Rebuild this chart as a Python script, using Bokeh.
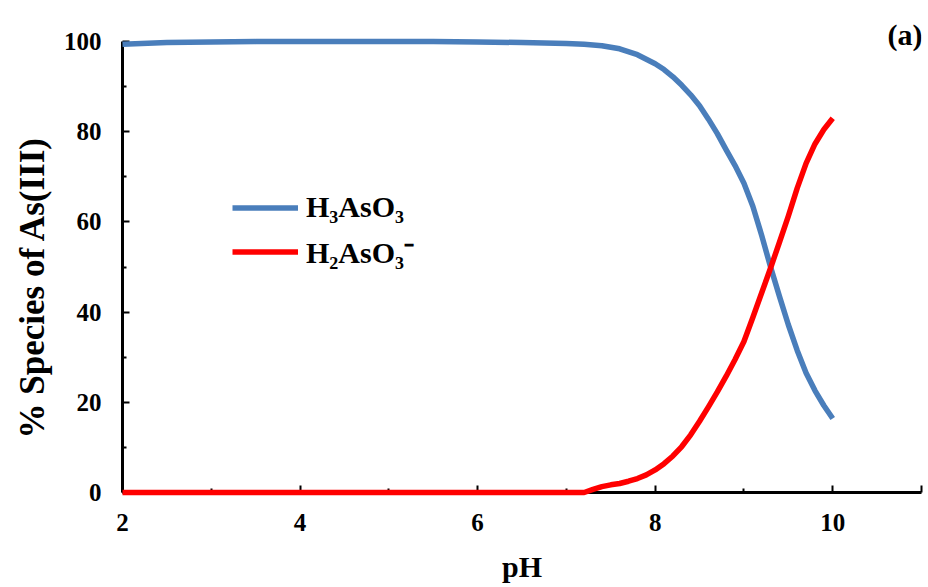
from bokeh.plotting import figure
from bokeh.models import Range1d, FixedTicker, Legend, LegendItem, Label, Title, ColumnDataSource
from bokeh.embed import file_html
from bokeh.resources import INLINE

# data
ph = [2.0, 2.5, 3.0, 3.5, 4.0, 4.5, 5.0, 5.5, 6.0, 6.5, 7.0, 7.2, 7.4, 7.6, 7.8, 8.0,
      8.1, 8.2, 8.3, 8.4, 8.5, 8.6, 8.7, 8.8, 8.9, 9.0, 9.1, 9.2, 9.3, 9.4, 9.5,
      9.6, 9.7, 9.8, 9.9, 10.0]
h3aso3 = [99.4, 99.8, 99.9, 100.0, 100.0, 100.0, 100.0, 100.0, 99.9, 99.8, 99.6, 99.4,
          99.1, 98.4, 97.1, 95.1, 93.8, 92.2, 90.3, 88.2, 85.8, 82.8, 79.6, 76.0,
          72.5, 68.6, 63.5, 57.0, 50.0, 43.5, 37.2, 31.5, 26.5, 22.6, 19.3, 16.4]
ph_red = [2.0, 3.0, 4.0, 5.0, 6.0, 7.0, 7.2, 7.3, 7.4, 7.5, 7.6, 7.7, 7.8, 7.9, 8.0,
          8.1, 8.2, 8.3, 8.4, 8.5, 8.6, 8.7, 8.8, 8.9, 9.0, 9.1, 9.2, 9.3, 9.4, 9.5,
          9.6, 9.7, 9.8, 9.9, 10.0]
h2aso3 = [0.0, 0.0, 0.0, 0.0, 0.0, 0.0, 0.0, 0.7, 1.3, 1.7, 2.0, 2.5, 3.1, 3.9, 5.0,
          6.4, 8.1, 10.2, 12.8, 15.8, 19.0, 22.3, 25.8, 29.5, 33.5, 38.8, 44.3,
          49.8, 55.5, 61.3, 67.5, 73.0, 77.3, 80.5, 83.0]
x_ticks = [2, 4, 6, 8, 10, 11]
x_minor = [3, 5, 7, 9]
y_ticks = [0, 20, 40, 60, 80, 100]
y_minor = [10, 30, 50, 70, 90]
labels = ["H\u2083AsO\u2083", "H\u2082AsO\u2083\u207b"]
x_title = "pH"
y_title = "% Species of As(III)"
panel_tag = "(a)"

FONT = "Liberation Serif"
BLUE = "#4A7EBB"
RED = "#FF0000"

p = figure(width=928, height=587, output_backend="svg", toolbar_location=None,
           x_range=Range1d(2.0, 11.0), y_range=Range1d(0.0, 106.9),
           min_border_left=122, min_border_right=7, min_border_top=10,
           min_border_bottom=95)
p.outline_line_color = None
p.grid.visible = False
p.background_fill_color = "white"
p.border_fill_color = "white"

src_b = ColumnDataSource(dict(x=ph, y=h3aso3))
src_r = ColumnDataSource(dict(x=ph_red, y=h2aso3))
rb = p.line("x", "y", source=src_b, line_color=BLUE, line_width=5.5, level="overlay",
            line_join="round")
rr = p.line("x", "y", source=src_r, line_color=RED, line_width=5.5, level="overlay",
            line_join="round")

for ax in (p.xaxis[0], p.yaxis[0]):
    ax.axis_line_width = 3
    ax.axis_line_color = "black"
    ax.major_tick_line_color = "black"
    ax.minor_tick_line_color = "black"
    ax.major_tick_line_width = 2
    ax.minor_tick_line_width = 2
    ax.major_tick_in = 7
    ax.major_tick_out = 0
    ax.minor_tick_in = 4
    ax.minor_tick_out = 0
    ax.major_label_text_font = FONT
    ax.major_label_text_font_style = "bold"
    ax.major_label_text_font_size = "25px"
    ax.major_label_text_color = "black"
    ax.axis_label_text_font = FONT
    ax.axis_label_text_font_style = "bold"
    ax.axis_label_text_color = "black"

xa = p.xaxis[0]
xa.ticker = FixedTicker(ticks=x_ticks, minor_ticks=x_minor)
xa.major_label_overrides = {11: ""}
xa.bounds = (2, 11)
xa.major_label_standoff = 21
xa.axis_label = x_title
xa.axis_label_text_font_size = "30px"
xa.axis_label_standoff = 16

ya = p.yaxis[0]
ya.ticker = FixedTicker(ticks=y_ticks, minor_ticks=y_minor)
ya.bounds = (0, 100)
ya.major_label_standoff = 21

p.add_layout(Title(text=y_title, align="left", offset=54, standoff=17,
                   text_font=FONT, text_font_style="bold", text_font_size="35px",
                   text_color="black"), "left")

legend = Legend(items=[LegendItem(label=labels[0], renderers=[rb]),
                       LegendItem(label=labels[1], renderers=[rr])],
                location=(110, 220), padding=0, margin=0, spacing=7,
                glyph_width=66, glyph_height=31, label_height=31,
                label_standoff=8, border_line_color=None,
                background_fill_alpha=0,
                label_text_font=FONT, label_text_font_style="bold",
                label_text_font_size="30px", label_text_color="black")
p.add_layout(legend, "center")

p.add_layout(Label(x=11, y=101.5, x_offset=1, text=panel_tag, text_align="right",
                   text_baseline="middle", text_font=FONT, text_font_style="bold",
                   text_font_size="30px", text_color="black"))

open("out.html", "w").write(file_html(p, INLINE))
